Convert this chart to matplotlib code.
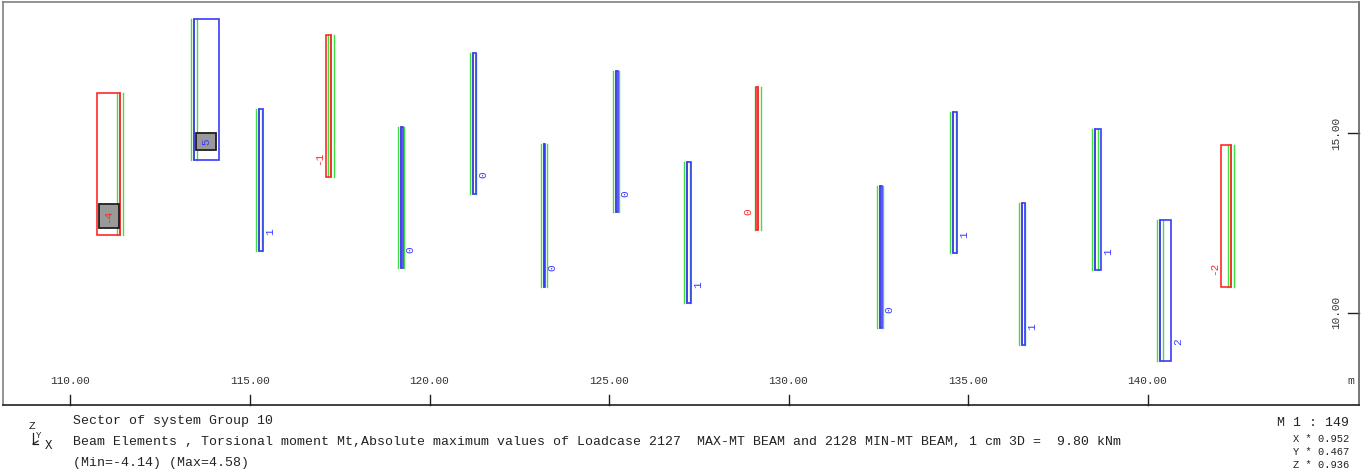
import matplotlib
matplotlib.use("Agg")
import matplotlib.pyplot as plt
from matplotlib.patches import Rectangle
from matplotlib.lines import Line2D

plt.rcParams['font.family'] = ['Liberation Mono', 'DejaVu Sans Mono']

# beam position (m), bottom / top level (m), torsional moment Mt (kNm)
beam_x = [111.37, 113.44, 115.25, 117.25, 119.21, 121.22, 123.18, 125.20,
          127.16, 129.14, 132.55, 134.59, 136.50, 138.54, 140.35, 142.33]
beam_bottom = [12.17, 14.25, 11.73, 13.78, 11.24, 13.31, 10.73, 12.79,
               10.27, 12.29, 9.58, 11.66, 9.11, 11.18, 8.67, 10.73]
beam_top = [16.10, 18.16, 15.67, 17.72, 15.16, 17.22, 14.69, 16.73,
            14.19, 16.27, 13.54, 15.58, 13.05, 15.10, 12.58, 14.67]
mt = [-4.14, 4.58, 0.8, -0.8, 0.4, 0.45, 0.2, 0.3,
      0.8, -0.3, 0.35, 0.6, 0.65, 1.0, 2.1, -1.8]

x_ticks = [110, 115, 120, 125, 130, 135, 140]
y_ticks = [10, 15]

title_lines = [
    "Sector of system Group 10",
    "Beam Elements , Torsional moment Mt,Absolute maximum values of Loadcase 2127  MAX-MT BEAM and 2128 MIN-MT BEAM, 1 cm 3D =  9.80 kNm",
    "(Min=-4.14) (Max=4.58)",
]
scale_text = "M 1 : 149"
factor_text = ["X * 0.952", "Y * 0.467", "Z * 0.936"]

W, H = 1366, 474
fig = plt.figure(figsize=(W / 100, H / 100), dpi=100)

def fx(px):
    return px / W

def fy(py):
    return 1 - py / H

ax = fig.add_axes([fx(3), fy(405), fx(1359) - fx(3), fy(2) - fy(405)])
ax.set_xlim(108.12, 145.89)
ax.set_ylim(7.44, 18.64)
ax.set_xticks([])
ax.set_yticks([])
for s in ['left', 'top']:
    ax.spines[s].set_color('#808080')
ax.spines['right'].set_color('#606060')
ax.spines['bottom'].set_color('#202020')
for s in ax.spines.values():
    s.set_linewidth(1.2)

RED = '#ff2a2a'
BLUE = '#3a3aff'
GREEN = '#3ee03e'
BROWN = '#8a5a44'
k = 0.15      # m per kNm
dx = 0.085    # green offset (m)
lab_off = 0.2  # label offset (m)
lab_dy = 0.52  # label height above bottom (m)

imax = max(range(len(mt)), key=lambda i: mt[i])
imin = min(range(len(mt)), key=lambda i: mt[i])

for i, (x, y0, y1, v) in enumerate(zip(beam_x, beam_bottom, beam_top, mt)):
    col = RED if v < 0 else BLUE
    ax.plot([x - dx, x - dx], [y0, y1], color=GREEN, lw=1.0, zorder=2)
    ax.plot([x + dx, x + dx], [y0, y1], color=GREEN, lw=1.0, zorder=2)
    ax.plot([x, x], [y0, y1], color=BROWN, lw=1.1, zorder=3)
    w = v * k
    ax.add_patch(Rectangle((min(x, x + w), y0), abs(w), y1 - y0, fill=False,
                           edgecolor=col, lw=1.2, zorder=4))
    txt = str(int(round(v)))
    if txt == '-0':
        txt = '0'
    if i in (imax, imin):
        ax.text(x + w / 2, y0 + lab_dy, txt, color=col, fontsize=8,
                rotation=90, ha='center', va='center', zorder=6,
                bbox=dict(boxstyle='square,pad=0.45', facecolor='#999999',
                          edgecolor='#202020', lw=1.3))
    elif v >= 0:
        ax.text(x + w + lab_off, y0 + lab_dy, txt, color=col, fontsize=8,
                rotation=90, ha='center', va='center', zorder=6)
    else:
        ax.text(x + w - lab_off, y0 + lab_dy, txt, color=col, fontsize=8,
                rotation=90, ha='center', va='center', zorder=6)

# axis ticks drawn inside the frame
xt = ax.get_xaxis_transform()
for t in x_ticks:
    ax.plot([t, t], [0, 0.026], color='#202020', lw=1, transform=xt, clip_on=False)
    ax.text(t, 0.06, f"{t:.2f}", transform=xt, ha='center', va='center',
            fontsize=8, color='#333333')
yt = ax.get_yaxis_transform()
for t in y_ticks:
    ax.plot([0.992, 1.0], [t, t], color='#202020', lw=1, transform=yt, clip_on=False)
    ax.text(0.983, t, f"{t:.2f}", transform=yt, ha='center', va='center',
            fontsize=8, color='#333333', rotation=90)
fig.text(fx(1351), fy(381), "m", ha='center', va='center', fontsize=8, color='#333333')

# footer
for j, line in enumerate(title_lines):
    fig.text(fx(73), fy(421 + 21 * j), line, ha='left', va='center',
             fontsize=9.5, color='#222222')
fig.text(fx(1349), fy(423), scale_text, ha='right', va='center', fontsize=9.5, color='#222222')
for j, line in enumerate(factor_text):
    fig.text(fx(1349), fy(439 + 13 * j), line, ha='right', va='center',
             fontsize=7.5, color='#222222')

# small coordinate symbol
fig.text(fx(32), fy(426), "Z", ha='center', va='center', fontsize=8, color='#222222')
fig.text(fx(39), fy(436), "Y", ha='center', va='center', fontsize=6.5, color='#222222')
fig.text(fx(49), fy(446), "X", ha='center', va='center', fontsize=9, color='#222222')
fig.add_artist(Line2D([fx(33), fx(33), fx(38)], [fy(433), fy(444), fy(444)],
                      color='#222222', lw=0.9))
fig.add_artist(Line2D([fx(33), fx(38)], [fy(444), fy(441)], color='#222222', lw=0.9))

fig.savefig("out.png", dpi=100)
